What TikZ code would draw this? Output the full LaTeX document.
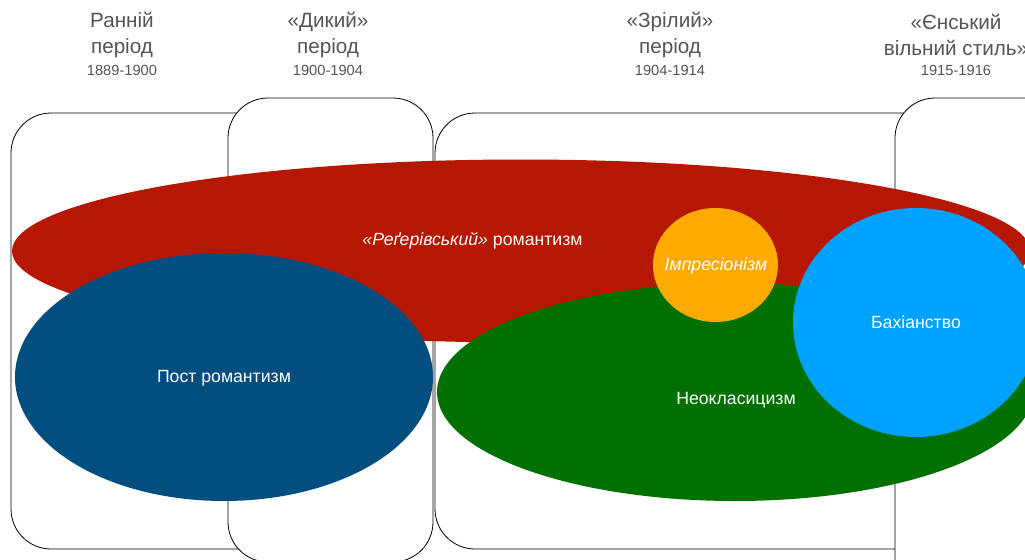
\documentclass[tikz,border=0pt]{standalone}
\usepackage{fontspec}
\setmainfont{Liberation Sans}
\usetikzlibrary{shapes.geometric}

\definecolor{romred}{RGB}{181,23,0}
\definecolor{postblue}{RGB}{2,78,127}
\definecolor{neogreen}{RGB}{0,112,0}
\definecolor{imporange}{RGB}{255,170,0}
\definecolor{bachblue}{RGB}{0,162,255}
\definecolor{headgray}{RGB}{85,85,85}

\begin{document}
\begin{tikzpicture}[
  x=0.75pt, y=-0.75pt,
  period/.style={rectangle, draw=black, line width=0.6pt, fill=white, rounded corners=30pt, inner sep=0pt},
  blob/.style={ellipse, draw=none, inner sep=0pt},
  head/.style={text=headgray, align=center, font=\fontsize{15.5}{19}\selectfont},
  years/.style={text=headgray, font=\fontsize{11}{13}\selectfont},
  tag/.style={text=white, font=\fontsize{13.25}{16}\selectfont}
]
\useasboundingbox (0,0) rectangle (1025,560);
\clip (0,0) rectangle (1025,560);

% periods
\node [period, minimum width=239.25pt, minimum height=327pt] (early) at (170.5,331) {};
\node [period, minimum width=386.25pt, minimum height=327pt] (mature) at (692.5,331) {};
\node [period, minimum width=153.75pt, minimum height=348pt] (wild) at (330.5,330) {};
\node [period, minimum width=153.75pt, minimum height=376.5pt] (jena) at (997.5,349) {};

% headings
\node [head] (earlyh) at (122,35) {Ранній\\період};
\node [years] (earlyy) at (122,70) {1889-1900};
\node [head] (wildh) at (328,35) {«Дикий»\\період};
\node [years] (wildy) at (328,70) {1900-1904};
\node [head] (matureh) at (670,35) {«Зрілий»\\період};
\node [years] (maturey) at (670,70) {1904-1914};
\node [head] (jenah) at (956,35) {«Єнський\\вільний стиль»};
\node [years] (jenay) at (956,70) {1915-1916};

% styles of music
\node [blob, fill=romred, minimum width=763.5pt, minimum height=137.25pt] (reger) at (521,251) {};
\node [blob, fill=postblue, minimum width=313.5pt, minimum height=186pt] (post) at (224,377) {};
\node [blob, fill=neogreen, minimum width=447pt, minimum height=163.5pt] (neo) at (735,392) {};
\node [blob, fill=imporange, minimum width=93.75pt, minimum height=85.5pt] (impr) at (715.5,265) {};
\node [blob, fill=bachblue, minimum width=184.5pt, minimum height=171.75pt] (bach) at (916,322.5) {};

\node [tag] (regerl) at (472.5,241) {\textit{«Реґерівський»} романтизм};
\node [tag] (postl) at (224,378) {Пост романтизм};
\node [tag] (neol) at (736,400) {Неокласицизм};
\node [tag] (imprl) at (716,266) {\textit{Імпресіонізм}};
\node [tag] (bachl) at (916,322) {Бахіанство};

\end{tikzpicture}
\end{document}
